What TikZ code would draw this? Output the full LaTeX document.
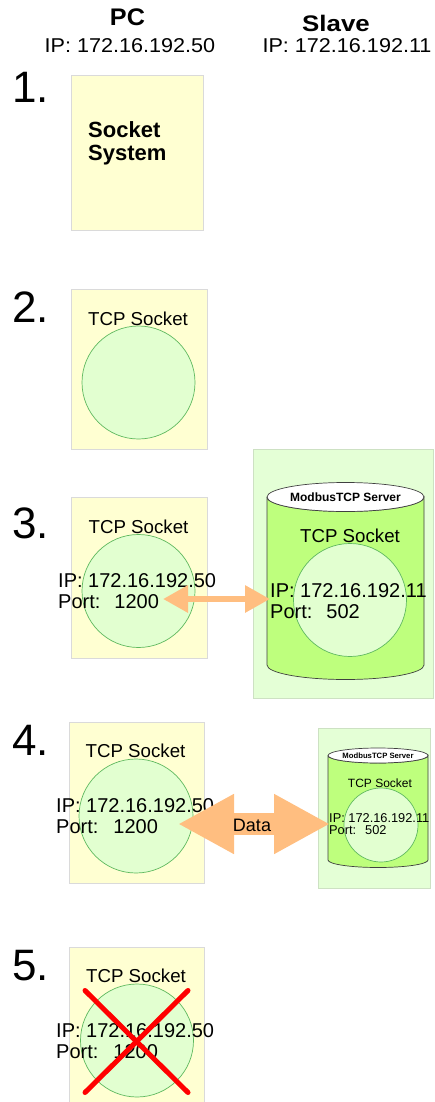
\documentclass[tikz,border=0pt]{standalone}
\usepackage{fontspec}
\setmainfont{Liberation Sans}
\usetikzlibrary{positioning,arrows.meta,calc}
\definecolor{pcyellow}{RGB}{255,255,210}
\definecolor{pcedge}{RGB}{218,218,218}
\definecolor{sockfill}{RGB}{226,255,208}
\definecolor{sockedge}{RGB}{95,185,95}
\definecolor{slavebg}{RGB}{228,255,214}
\definecolor{slaveedge}{RGB}{205,225,195}
\definecolor{cylgreen}{RGB}{190,255,125}
\definecolor{dataorange}{RGB}{255,190,128}
\newcommand{\pxsize}[1]{\fontsize{#1}{#1}\selectfont}

\begin{document}
\begin{tikzpicture}[x=1pt, y=1pt,
  pcbox/.style={draw=pcedge, fill=pcyellow, minimum width=135, minimum height=161, inner sep=0},
  slavebox/.style={draw=slaveedge, fill=slavebg, inner sep=0},
  sock/.style={circle, draw=sockedge, fill=sockfill, minimum size=113, inner sep=0, line width=0.7},
  cylbody/.style={draw=black!75, fill=cylgreen, line width=0.7},
  cyltop/.style={draw=black!75, fill=white, line width=0.7},
  txt/.style={inner sep=0, anchor=base west},
  mid/.style={inner sep=0, anchor=base},
  head/.style={mid, xscale=#1, transform shape},
  stepnum/.style={txt, font=\pxsize{44}},
  ipbig/.style={txt, font=\pxsize{20}},
  ipsmall/.style={txt, font=\pxsize{12.8}},
  sockname/.style={mid, font=\pxsize{18.7}},
  linkarr/.style={dataorange, line width=6, {Triangle[length=25pt,width=26pt]}-{Triangle[length=25pt,width=26pt]}},
  dataarr/.style={dataorange, line width=22, {Triangle[length=56pt,width=56pt]}-{Triangle[length=56pt,width=56pt]}},
  cross/.style={red, line width=5, line cap=round}
]
\useasboundingbox (0,0) rectangle (434,-1102);

\node[head=1.05, font=\bfseries\pxsize{24}] (pc) at (127.5,-26) {PC};
\node[head=1.08, font=\pxsize{20}] (pcip) at (130,-53) {IP: 172.16.192.50};
\node[head=1.15, font=\bfseries\pxsize{22.5}] (slave) at (336,-32) {Slave};
\node[head=1.08, font=\pxsize{20}] (slaveip) at (347,-53) {IP: 172.16.192.11};

\node[stepnum] (n1) at (12,-103) {1.};
\node[pcbox, minimum width=132, minimum height=155] (b1) at (137,-152.5) {};
\node[txt, font=\bfseries\pxsize{22}] (sys1) at (88,-138) {Socket};
\node[txt, font=\bfseries\pxsize{22}] (sys2) at (88,-161) {System};

\node[stepnum] (n2) at (12,-322) {2.};
\node[pcbox, minimum width=136, minimum height=160] (b2) at (139,-369) {};
\node[sock] (c2) at (138.5,-382.5) {};
\node[sockname] (t2) at (138,-325) {TCP Socket};

\node[stepnum] (n3) at (12,-538) {3.};
\node[pcbox, minimum width=136] (b3) at (139,-577.5) {};
\node[sock] (c3) at (138.5,-591) {};
\node[sockname] (t3) at (138.5,-533) {TCP Socket};
\node[ipbig] (ip3) at (58,-587) {IP: 172.16.192.50};
\node[ipbig] (port3) at (58,-608) {Port:\hspace{0.7em}1200};
\node[slavebox, minimum width=180.5, minimum height=249] (s3) at (343.25,-573.5) {};
\coordinate (cyl3) at (345.5,-497);
\draw[cylbody] ($(cyl3)+(-78.5,0)$) -- ++(0,-168) arc[start angle=180, end angle=360, x radius=78.5, y radius=14.5] -- ++(0,168) arc[start angle=0, end angle=-180, x radius=78.5, y radius=14.5];
\draw[cyltop] (cyl3) ellipse[x radius=78.5, y radius=14.5];
\node[inner sep=0, font=\bfseries\pxsize{12}] (srv3) at (cyl3) {ModbusTCP Server};
\node[sock] (cs3) at (350,-600) {};
\node[sockname] (ts3) at (350,-542) {TCP Socket};
\node[ipbig] (sip3) at (270,-597) {IP: 172.16.192.11};
\node[ipbig] (sport3) at (270,-618) {Port:\hspace{0.7em}502};
\coordinate (a3l) at (163,-599);
\coordinate (a3r) at (270,-599);
\draw[linkarr] (a3l) -- (a3r);

\node[stepnum] (n4) at (12,-755) {4.};
\node[pcbox] (b4) at (136.5,-802.5) {};
\node[sock, minimum size=114] (c4) at (136,-816) {};
\node[sockname] (t4) at (135.5,-757) {TCP Socket};
\node[ipbig] (ip4) at (56,-812) {IP: 172.16.192.50};
\node[ipbig] (port4) at (56,-833) {Port:\hspace{0.75em}1200};
\node[slavebox, minimum width=112, minimum height=160] (s4) at (374,-808) {};
\coordinate (cyl4) at (378,-755.5);
\draw[cylbody] ($(cyl4)+(-50,0)$) -- ++(0,-104.5) arc[start angle=180, end angle=360, x radius=50, y radius=7.5] -- ++(0,104.5) arc[start angle=0, end angle=-180, x radius=50, y radius=7.5];
\draw[cyltop] (cyl4) ellipse[x radius=50, y radius=7.5];
\node[inner sep=0, font=\bfseries\pxsize{7.7}] (srv4) at (cyl4) {ModbusTCP Server};
\node[sock, minimum size=74] (cs4) at (381,-825) {};
\node[mid, font=\pxsize{12}] (ts4) at (380,-787) {TCP Socket};
\node[ipsmall] (sip4) at (329,-822) {IP: 172.16.192.11};
\node[ipsmall] (sport4) at (329,-834) {Port:\hspace{0.7em}502};
\coordinate (a4l) at (178,-824);
\coordinate (a4r) at (330,-824);
\draw[dataarr] (a4l) -- (a4r);
\node[inner sep=0, font=\pxsize{18}] (data) at (252,-825) {Data};

\node[stepnum] (n5) at (12,-980) {5.};
\node[pcbox] (b5) at (136.5,-1027.5) {};
\node[sock] (c5) at (137,-1040.5) {};
\node[sockname] (t5) at (136,-982) {TCP Socket};
\node[ipbig] (ip5) at (56,-1037) {IP: 172.16.192.50};
\node[ipbig] (port5) at (56,-1058) {Port:\hspace{0.75em}1200};
\draw[cross] ($(c5)+(-52,50)$) -- ($(c5)+(51,-52)$);
\draw[cross] ($(c5)+(51,50)$) -- ($(c5)+(-52,-52)$);
\end{tikzpicture}
\end{document}
